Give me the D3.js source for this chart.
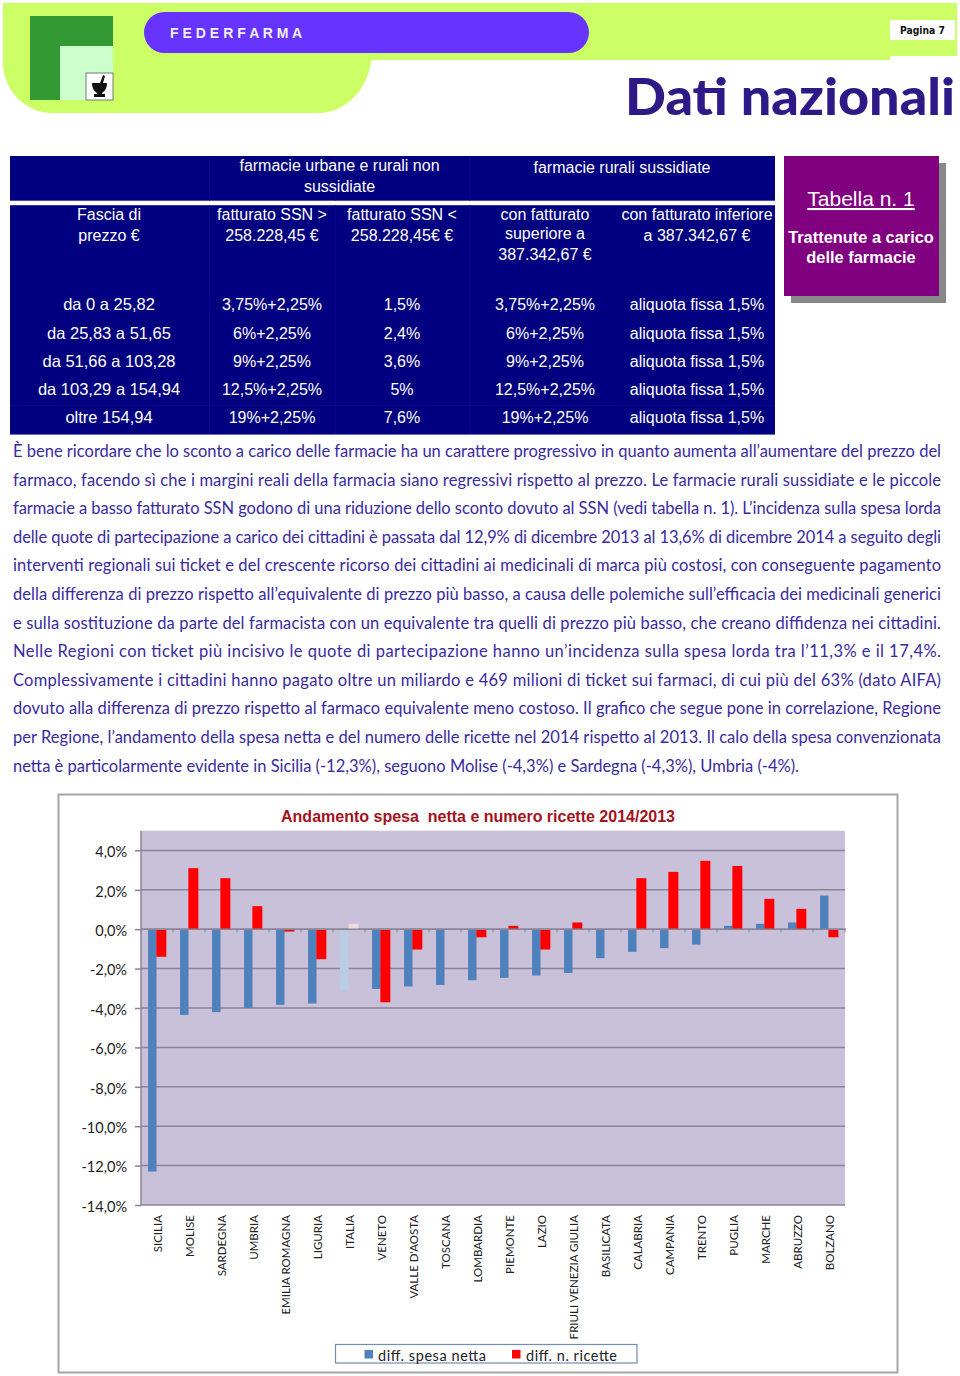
<!DOCTYPE html>
<html><head><meta charset="utf-8">
<script src="https://cdn.jsdelivr.net/npm/d3@7"></script>
<style>html,body{margin:0;padding:0;background:#fff}svg{display:block}</style>
</head><body><svg id="c" width="960" height="1376"></svg>
<script>
const categories=["SICILIA","MOLISE","SARDEGNA","UMBRIA","EMILIA ROMAGNA","LIGURIA","ITALIA","VENETO","VALLE D'AOSTA","TOSCANA","LOMBARDIA","PIEMONTE","LAZIO","FRIULI VENEZIA GIULIA","BASILICATA","CALABRIA","CAMPANIA","TRENTO","PUGLIA","MARCHE","ABRUZZO","BOLZANO"];
const spesaNetta=[-12.3,-4.35,-4.21,-4.0,-3.84,-3.77,-3.11,-3.03,-2.91,-2.83,-2.59,-2.47,-2.35,-2.22,-1.47,-1.15,-0.96,-0.78,0.17,0.27,0.34,1.71];
const nRicette=[-1.4,3.1,2.59,1.17,-0.12,-1.52,0.27,-3.71,-1.03,0,-0.41,0.17,-1.03,0.34,0,2.59,2.91,3.47,3.21,1.54,1.03,-0.41];
const yTicks=[4,2,0,-2,-4,-6,-8,-10,-12,-14];
const seriesNames=["diff. spesa netta","diff. n. ricette"];
const chartTitle="Andamento spesa  netta e numero ricette 2014/2013";
const rowLabels=["da 0 a 25,82","da 25,83 a 51,65","da 51,66 a 103,28","da 103,29 a 154,94","oltre 154,94"];
const col1=["3,75%+2,25%","6%+2,25%","9%+2,25%","12,5%+2,25%","19%+2,25%"];
const col2=["1,5%","2,4%","3,6%","5%","7,6%"];
const col3=["3,75%+2,25%","6%+2,25%","9%+2,25%","12,5%+2,25%","19%+2,25%"];
const col4=["aliquota fissa 1,5%","aliquota fissa 1,5%","aliquota fissa 1,5%","aliquota fissa 1,5%","aliquota fissa 1,5%"];
const bodyLines=[
"È bene ricordare che lo sconto a carico delle farmacie ha un carattere progressivo in quanto aumenta all’aumentare del prezzo del",
"farmaco, facendo sì che i margini reali della farmacia siano regressivi rispetto al prezzo. Le farmacie rurali sussidiate e le piccole",
"farmacie a basso fatturato SSN godono di una riduzione dello sconto dovuto al SSN (vedi tabella n. 1). L’incidenza sulla spesa lorda",
"delle quote di partecipazione a carico dei cittadini è passata dal 12,9% di dicembre 2013 al 13,6% di dicembre 2014 a seguito degli",
"interventi regionali sui ticket e del crescente ricorso dei cittadini ai medicinali di marca più costosi, con conseguente pagamento",
"della differenza di prezzo rispetto all’equivalente di prezzo più basso, a causa delle polemiche sull’efficacia dei medicinali generici",
"e sulla sostituzione da parte del farmacista con un equivalente tra quelli di prezzo più basso, che creano diffidenza nei cittadini.",
"Nelle Regioni con ticket più incisivo le quote di partecipazione hanno un’incidenza sulla spesa lorda tra l’11,3% e il 17,4%.",
"Complessivamente i cittadini hanno pagato oltre un miliardo e 469 milioni di ticket sui farmaci, di cui più del 63% (dato AIFA)",
"dovuto alla differenza di prezzo rispetto al farmaco equivalente meno costoso. Il grafico che segue pone in correlazione, Regione",
"per Regione, l’andamento della spesa netta e del numero delle ricette nel 2014 rispetto al 2013. Il calo della spesa convenzionata",
"netta è particolarmente evidente in Sicilia (-12,3%), seguono Molise (-4,3%) e Sardegna (-4,3%), Umbria (-4%)."];

const svg=d3.select("#c");
const sans="'Liberation Sans',Arial,sans-serif", lato="Lato,sans-serif", body="Lato,sans-serif";
function T(x,y,s,o={}){const t=svg.append("text").attr("x",x).attr("y",y).text(s)
 .attr("font-family",o.f||sans).attr("font-size",o.s||16).attr("fill",o.c||"#fff")
 .attr("text-anchor",o.a||"middle").attr("font-weight",o.w||"normal");
 if(o.l)t.attr("textLength",o.l).attr("lengthAdjust",o.adj||"spacing");
 if(o.d)t.attr("text-decoration",o.d); return t;}

// header
svg.append("path").attr("fill","#ccff66").attr("d","M3,3H957V56H890V60H371C368,90 345,113 318,113H52C25,113 3,90 3,62Z");
svg.append("rect").attr("x",144).attr("y",12).attr("width",445).attr("height",41).attr("rx",20.5).attr("fill","#6633ff");
T(170,38,"F E D E R F A R M A",{a:"start",s:14,w:"bold",c:"#f0f0ff",l:132});
svg.append("rect").attr("x",890).attr("y",20).attr("width",65).attr("height",20).attr("fill","#fff");
T(900,34,"Pagina  7",{a:"start",s:11,w:"bold",c:"#111",f:"'DejaVu Sans',sans-serif",l:45,adj:"spacingAndGlyphs"});
svg.append("rect").attr("x",30).attr("y",16).attr("width",83).attr("height",84).attr("fill","#339933");
svg.append("rect").attr("x",60).attr("y",46).attr("width",53).attr("height",54).attr("fill","#ccffcc");
svg.append("rect").attr("x",86).attr("y",73).attr("width",27).attr("height",27).attr("fill","#fff").attr("stroke","#777");
svg.append("path").attr("fill","#111").attr("d","M92,83H107C107,88 105,91 102,93V94H105V97H94V94H97V93C94,91 92,88 92,83ZM100,83L103,75L105,76L103,83Z");
T(625,115,"Dati nazionali",{a:"start",s:52,w:900,c:"#2e1a87",f:lato,l:330,adj:"spacingAndGlyphs"});

// table
svg.append("rect").attr("x",10).attr("y",156).attr("width",765).attr("height",278).attr("fill","#000080");
svg.append("rect").attr("x",10).attr("y",200.7).attr("width",765).attr("height",4.5).attr("fill","#fff");
svg.append("rect").attr("x",10).attr("y",434).attr("width",765).attr("height",1).attr("fill","#6a6ac0");
[209.5,335,470].forEach(x=>{[[156,200.7],[205.2,434]].forEach(([a,b])=>svg.append("line").attr("x1",x).attr("x2",x).attr("y1",a).attr("y2",b).attr("stroke","#0c0c88"));});
svg.append("line").attr("x1",10).attr("x2",775).attr("y1",405.5).attr("y2",405.5).attr("stroke","#0c0c88");
const rowY=[309.5,338.5,366.5,394.5,423];
[[109,rowLabels,16.5],[272,col1,16],[402,col2,16],[545,col3,16],[697,col4,16]].forEach(([x,arr,s])=>arr.forEach((t,i)=>T(x,rowY[i],t,{s})));
[[339.5,171,"farmacie urbane e rurali non"],[339.5,192,"sussidiate"],[622,173,"farmacie rurali sussidiate"],
 [109,220,"Fascia di"],[109,241,"prezzo €"],[272,220,"fatturato SSN >"],[272,241,"258.228,45 €"],
 [402,220,"fatturato SSN <"],[402,241,"258.228,45€ €"],[545,220,"con fatturato"],[545,239,"superiore a"],[545,260,"387.342,67 €"],
 [697,220,"con fatturato inferiore"],[697,241,"a 387.342,67 €"]].forEach(([x,y,s])=>T(x,y,s));

// tabella box
svg.append("rect").attr("x",791).attr("y",163).attr("width",155).attr("height",140).attr("fill","#888");
svg.append("rect").attr("x",784).attr("y",156).attr("width",155).attr("height",140).attr("fill","#800080");
T(861,206,"Tabella n. 1",{s:21,d:"underline"});
T(861,243,"Trattenute a carico",{s:16.4,w:"bold"});
T(861,263,"delle farmacie",{s:16.4,w:"bold"});

// paragraph
bodyLines.forEach((s,i)=>T(13,457+i*28.6,s,{a:"start",f:body,s:16.5,c:"#3a2aa0",l:i===11?786:928}));

// chart
svg.append("rect").attr("x",58.5).attr("y",794.5).attr("width",839).attr("height",578).attr("fill","#fff").attr("stroke","#a6a6a6").attr("stroke-width",2);
T(478,822,chartTitle,{s:16,w:"bold",c:"#a5121c"}).style("white-space","pre");

const x=d3.scaleBand().domain(categories).range([141,845]);
const y=d3.scaleLinear().domain([-14,5]).range([1205,830.7]);
const bw=x.bandwidth();
svg.append("rect").attr("x",141).attr("y",y(5)).attr("width",704).attr("height",y(-14)-y(5)).attr("fill","#c9c0da");

// grid + y axis
const fmt=v=>v.toFixed(1).replace(".",",")+"%";
const gy=svg.append("g").attr("transform","translate(141,0)").call(d3.axisLeft(y).tickValues(yTicks).tickFormat(fmt).tickSize(6).tickPadding(8));
gy.select(".domain").attr("d",`M0,${y(5)}V${y(-14)}`).attr("stroke","#8a8496").attr("stroke-width",1.5);
gy.selectAll(".tick line").attr("stroke","#8a8496").attr("stroke-width",1.5);
gy.selectAll("text").attr("font-family",lato).attr("font-size",14.5).attr("fill","#222").attr("dy","0.43em");
svg.append("g").selectAll("line").data(yTicks).join("line").attr("x1",141).attr("x2",845)
 .attr("y1",d=>y(d)).attr("y2",d=>y(d)).attr("stroke","#8a8496").attr("stroke-width",1.5);

// bars
const italia="ITALIA";
svg.append("g").selectAll("rect").data(categories).join("rect")
 .attr("x",d=>x(d)+bw*0.22).attr("width",bw*0.265)
 .attr("y",(d,i)=>y(Math.max(0,spesaNetta[i]))).attr("height",(d,i)=>Math.abs(y(spesaNetta[i])-y(0)))
 .attr("fill",d=>d===italia?"#b9cde5":"#4f81bd");
svg.append("g").selectAll("rect").data(categories).join("rect")
 .attr("x",d=>x(d)+bw*0.48).attr("width",bw*0.312)
 .attr("y",(d,i)=>y(Math.max(0,nRicette[i]))).attr("height",(d,i)=>Math.abs(y(nRicette[i])-y(0)))
 .attr("fill",d=>d===italia?"#f2dcdb":"#ff0000");

// x axis on zero line with labels below plot
svg.append("g").selectAll("line").data(categories.concat(["_end"])).join("line")
 .attr("x1",d=>d==="_end"?845:x(d)).attr("x2",d=>d==="_end"?845:x(d)).attr("y1",y(0)).attr("y2",y(0)+3.5)
 .attr("stroke","#8a8496").attr("stroke-width",1);
svg.append("line").attr("x1",141).attr("x2",846).attr("y1",y(0)).attr("y2",y(0)).attr("stroke","#8a8496").attr("stroke-width",1.5);
svg.append("g").selectAll("text").data(categories).join("text")
 .attr("transform",d=>`translate(${x(d)+bw/2+4.5},1215) rotate(-90)`)
 .attr("text-anchor","end").attr("font-family",lato).attr("font-size",11.5).attr("fill","#222").text(d=>d);

// legend
svg.append("rect").attr("x",335.5).attr("y",1344.5).attr("width",301.5).attr("height",18.5).attr("fill","#fff").attr("stroke","#6f8db5").attr("stroke-width",1.2);
[[364.5,378,"#4f81bd",0,108],[512,526,"#ff0000",1,91]].forEach(([mx,tx,c,i,l])=>{
 svg.append("rect").attr("x",mx).attr("y",1350).attr("width",8.5).attr("height",8.5).attr("fill",c);
 T(tx,1361,seriesNames[i],{a:"start",f:lato,s:14.5,c:"#222",l:l});
});
</script></body></html>
